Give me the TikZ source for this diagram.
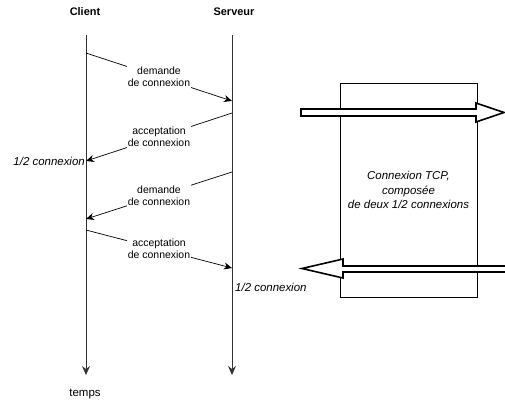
\documentclass[tikz,border=0pt]{standalone}
\usepackage{fontspec}
\setmainfont{Liberation Sans}
\usetikzlibrary{arrows.meta}

\begin{document}
\begin{tikzpicture}[x=1bp, y=-1bp,
        titre/.style={font=\fontsize{11}{13}\selectfont\bfseries},
        vie/.style={draw=black!80, line width=0.8bp, -{Stealth[length=9bp, width=8bp, inset=3bp]}},
        msg/.style={line width=0.7bp, -{Stealth[length=8bp, width=7bp, inset=2.5bp]}},
        etiq/.style={fill=white, align=center, inner sep=1pt,
                     font=\fontsize{10.5}{12.5}\selectfont},
        demi/.style={inner sep=1pt, font=\fontsize{11.5}{13}\selectfont\itshape},
        creux/.style={draw, line width=1.6bp, fill=white, line join=miter}
    ]
        \useasboundingbox (0,0) rectangle (505,402);

        % lignes de vie
        \node[titre] (client) at (85,12) {Client};
        \node[titre] (serveur) at (234,12) {Serveur};
        \node[font=\fontsize{11.5}{13}\selectfont] (temps) at (85,394) {temps};
        \coordinate (cHaut) at (86,35);  \coordinate (cBas) at (86,375);
        \coordinate (sHaut) at (232,35); \coordinate (sBas) at (232,375);
        \draw[vie] (cHaut) -- (cBas);
        \draw[vie] (sHaut) -- (sBas);

        % echanges
        \coordinate (c1) at (86,53);   \coordinate (s1) at (232,101);
        \coordinate (s2) at (232,113); \coordinate (c2) at (86,161);
        \coordinate (s3) at (232,172); \coordinate (c3) at (86,219);
        \coordinate (c4) at (86,230);  \coordinate (s4) at (232,268);
        \draw[msg] (c1) -- node[etiq] (dem1) {demande\\de connexion} (s1);
        \draw[msg] (s2) -- node[etiq] (acc1) {acceptation\\de connexion} (c2);
        \draw[msg] (s3) -- node[etiq] (dem2) {demande\\de connexion} (c3);
        \draw[msg] (c4) -- node[etiq] (acc2) {acceptation\\de connexion} (s4);
        \node[demi, anchor=east] (demiC) at (c2) {1/2 connexion};
        \node[demi, anchor=west] (demiS) at ([xshift=2bp, yshift=-19bp]s4) {1/2 connexion};

        % connexion TCP
        \node[draw, line width=0.6bp, minimum width=137bp, minimum height=214bp,
              align=center, font=\fontsize{11.5}{14.5}\selectfont\itshape] (tcp) at (408.5,190)
            {Connexion TCP,\\composée\\de deux 1/2 connexions};
        \draw[creux] (301,109) -- (476,109) -- (476,103) -- (504,112.5)
            -- (476,122) -- (476,116) -- (301,116) -- cycle;
        \draw[creux] (506,266) -- (343,266) -- (343,259) -- (302,268.5)
            -- (343,278) -- (343,272) -- (506,272);
\end{tikzpicture}
\end{document}
